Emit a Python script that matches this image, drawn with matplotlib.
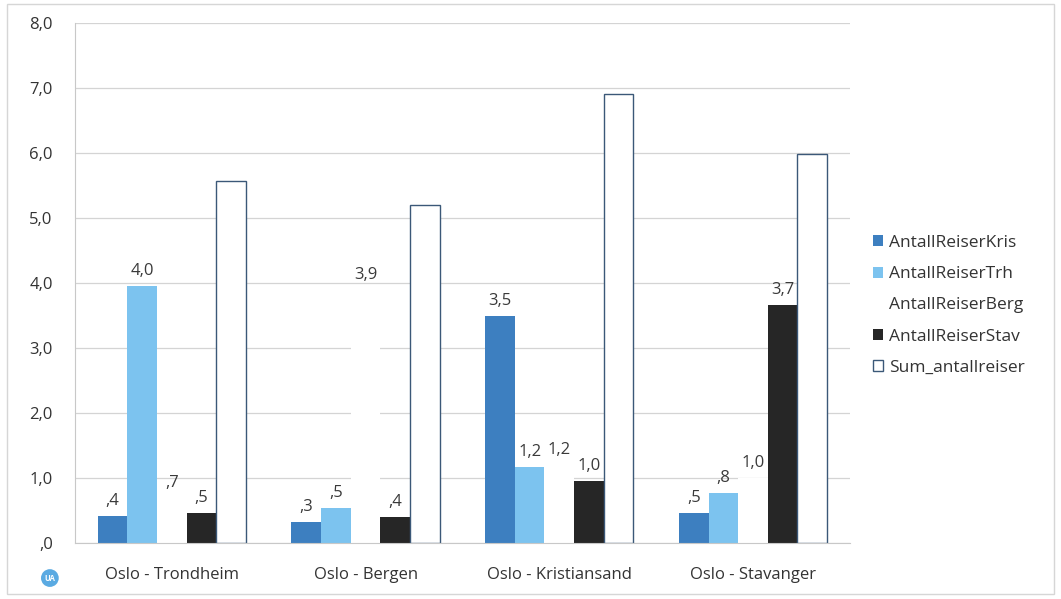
import numpy as np
from matplotlib import pyplot as plt
from matplotlib.patches import Rectangle

# data
routes = ["Oslo - Trondheim", "Oslo - Bergen", "Oslo - Kristiansand", "Oslo - Stavanger"]
kris = [0.42, 0.32, 3.49, 0.46]
trh = [3.96, 0.54, 1.17, 0.77]
berg = [0.70, 3.90, 1.20, 1.00]
stav = [0.46, 0.40, 0.96, 3.66]
sum_reiser = [5.57, 5.20, 6.91, 5.98]
yticks = [0, 1, 2, 3, 4, 5, 6, 7, 8]


def fmt(v):
    # norsk format uten ledende null: 0.4 -> ",4"
    s = f"{v:.1f}".replace(".", ",")
    if s.startswith("0"):
        s = s[1:]
    return s


plt.rcParams["font.family"] = ["Open Sans", "DejaVu Sans"]
fig = plt.figure(figsize=(10.61, 5.99), dpi=100)
ax = fig.add_axes([0.0707, 0.0935, 0.7303, 0.8681])

x = np.arange(len(routes))
w = 0.153
series = [
    ("AntallReiserKris", kris, "#3d7fc0", "none", True),
    ("AntallReiserTrh", trh, "#7cc3ef", "none", True),
    ("AntallReiserBerg", berg, "white", "none", True),
    ("AntallReiserStav", stav, "#262626", "none", True),
    ("Sum_antallreiser", sum_reiser, "white", "#3b5878", False),
]

for i, (name, vals, fc, ec, show_lbl) in enumerate(series):
    pos = x + (i - 2) * w
    bars = ax.bar(pos, vals, w, color=fc, edgecolor=ec, linewidth=1.0,
                  label=name, zorder=2)
    if show_lbl:
        for b, v in zip(bars, vals):
            ax.annotate(fmt(v), (b.get_x() + b.get_width() / 2, v),
                        xytext=(0, 5), textcoords="offset points",
                        ha="center", va="bottom", fontsize=12, color="#3a3a3a")

ax.set_xlim(-0.5, 3.5)
ax.set_ylim(0, 8)
ax.set_yticks(yticks)
ax.set_yticklabels([fmt(t) for t in yticks])
ax.set_xticks(x)
ax.set_xticklabels(routes)
ax.tick_params(axis="both", length=0, labelsize=12, colors="#333333")
ax.tick_params(axis="y", pad=16)
ax.tick_params(axis="x", pad=17)
ax.yaxis.grid(True, color="#d4d4d4", linewidth=0.9, zorder=0)
ax.set_axisbelow(True)
for side in ["top", "right"]:
    ax.spines[side].set_visible(False)
for side in ["left", "bottom"]:
    ax.spines[side].set_color("#c8c8c8")

fig.legend(loc="center left", bbox_to_anchor=(0.808, 0.49), frameon=False,
           fontsize=12.5, handlelength=0.6, handleheight=0.6,
           handletextpad=0.35, labelspacing=0.88, labelcolor="#333333")

# chart frame and the little logo
fig.add_artist(Rectangle((0.007, 0.008), 0.986, 0.985, transform=fig.transFigure,
                         fill=False, edgecolor="#d6d6d6", linewidth=1.0))
fig.text(0.047, 0.035, "UA", fontsize=5.5, color="white", weight="bold",
         ha="center", va="center",
         bbox=dict(boxstyle="circle,pad=0.45", fc="#5aaae2", ec="none"))

plt.savefig("out.png", dpi=100)
